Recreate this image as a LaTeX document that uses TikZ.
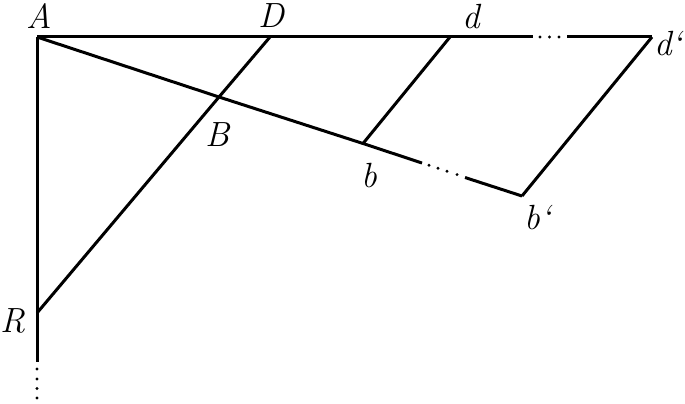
\documentclass[tikz,border=0pt]{standalone}
\usepackage{fontspec}
\setmainfont{Latin Modern Roman}
\begin{document}
\begin{tikzpicture}[x=1pt,y=-1pt,
  seg/.style={line width=3pt,line cap=butt,line join=miter},
  dotmark/.style={fill=black,radius=1.6pt},
  lbl/.style={inner sep=0pt,font=\fontsize{35}{40}\selectfont\itshape}]
\useasboundingbox (0,0) rectangle (685,404);
% points
\coordinate (A) at (37,37);
\coordinate (D) at (270,37);
\coordinate (d) at (450,37);
\coordinate (t1) at (533,37);
\coordinate (t2) at (567,37);
\coordinate (dp) at (652,37);
\coordinate (B) at (219,97);
\coordinate (b) at (363,143.5);
\coordinate (l1) at (422,163);
\coordinate (l2) at (465,177.5);
\coordinate (bp) at (522,196);
\coordinate (R) at (37,313);
\coordinate (v1) at (37,362);
% lines
\draw[seg] (A) -- (D) -- (d) -- (t1);
\draw[seg] (t2) -- (dp);
\draw[seg] (A) -- (B) -- (b) -- (l1);
\draw[seg] (l2) -- (bp);
\draw[seg] (dp) -- (bp);
\draw[seg] (d) -- (b);
\draw[seg] (D) -- (B) -- (R);
\draw[seg] (A) -- (R) -- (v1);
% dots
\foreach \x in {540,549.5,559} \fill[dotmark] (\x,37) circle;
\foreach \x/\y in {429/165.3,438/168.3,447/171.3,457/174.6} \fill[dotmark] (\x,\y) circle;
\foreach \y in {369,379,388.5,398} \fill[dotmark] (37,\y) circle;
% labels
\node[lbl] (lA) at (39,16) {A};
\node[lbl] (lD) at (271,16) {D};
\node[lbl] (ld) at (471,17) {d};
\node[lbl] (ldp) at (668,44) {d‘};
\node[lbl] (lB) at (218,135) {B};
\node[lbl] (lb) at (369,176) {b};
\node[lbl] (lbp) at (538,218) {b‘};
\node[lbl] (lR) at (13,321) {R};
\end{tikzpicture}
\end{document}
